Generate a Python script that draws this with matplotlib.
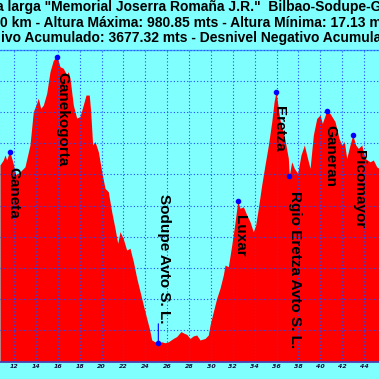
import matplotlib
matplotlib.use('Agg')
import matplotlib.pyplot as plt

# perfil (km, metros)
km = [10.72, 11.02, 11.18, 11.33, 11.48, 11.63, 11.88, 12.18, 12.55, 13.00,
      13.46, 13.76, 14.07, 14.22, 14.44, 14.68, 14.99, 15.29, 15.59, 15.75,
      15.96, 16.20, 16.50, 16.82, 16.96, 17.12, 17.42, 17.73, 18.03, 18.33,
      18.58, 18.88, 19.01, 19.19, 19.40, 19.71, 20.02, 20.32, 20.62, 20.93,
      21.23, 21.48, 21.69, 21.99, 22.30, 22.60, 22.91, 23.22, 23.52, 23.82,
      24.13, 24.37, 24.59, 24.89, 25.19, 25.50, 25.80, 26.10, 26.56, 26.87,
      27.26, 27.57, 27.79, 28.09, 28.39, 28.70, 29.00, 29.46, 29.76, 29.92,
      30.22, 30.53, 30.83, 31.13, 31.29, 31.59, 31.90, 32.21, 32.45, 32.66,
      32.96, 33.27, 33.57, 33.87, 34.09, 34.33, 34.64, 34.94, 35.25, 35.56,
      35.77, 35.95, 36.16, 36.31, 36.77, 37.07, 37.16, 37.38, 37.62, 37.93,
      38.23, 38.54, 38.75, 39.06, 39.36, 39.67, 39.97, 40.18, 40.58, 40.88,
      41.34, 41.71, 41.95, 42.19, 42.41, 42.71, 42.96, 43.23, 43.47, 43.78,
      44.08, 44.54, 44.84, 45.15, 45.36]
alt = [630, 646, 662, 646, 662, 672, 640, 598, 608, 624,
       694, 800, 828, 844, 811, 822, 860, 929, 965, 972,
       975, 945, 940, 918, 929, 908, 822, 780, 785, 822,
       854, 854, 800, 694, 705, 672, 608, 555, 544, 480,
       427, 379, 416, 393, 357, 363, 320, 267, 224, 181,
       138, 106, 69, 63, 60, 63, 60, 63, 74, 80,
       96, 90, 87, 74, 82, 85, 69, 74, 85, 117,
       160, 203, 235, 277, 309, 304, 373, 448, 515, 491,
       496, 470, 448, 416, 437, 491, 566, 630, 694, 769,
       833, 865, 811, 774, 710, 652, 596, 640, 619, 603,
       662, 694, 662, 619, 726, 779, 790, 763, 804, 795,
       769, 715, 694, 705, 651, 694, 726, 694, 683, 694,
       651, 640, 646, 624, 619]

peak_names = ['Ganeta', 'Ganekogorta', 'Sodupe Avto S. L.', 'Luxar', 'Eretza',
              'Rgio Eretza Avto S. L.', 'Ganeran', 'Picomayor']
peak_km = [11.63, 15.96, 25.19, 32.45, 35.95, 37.16, 40.58, 42.96]
peak_alt = [672, 975, 60, 515, 865, 596, 804, 726]

km_ticks = list(range(12, 46, 2))

title_lines = ['a larga "Memorial Joserra Romaña J.R."  Bilbao-Sodupe-Galdakao',
               '0 km - Altura Máxima: 980.85 mts - Altura Mínima: 17.13 mts',
               'ivo Acumulado: 3677.32 mts - Desnivel Negativo Acumulado: 3677.32 mts']

bg = '#80ffff'
W = 379.0

fig = plt.figure(figsize=(3.79, 3.79), dpi=100, facecolor=bg)
ax = fig.add_axes([0, 17.5 / W, 1, 312 / W])
ax.set_facecolor(bg)

ax.fill_between(km, 0, alt, color='#ff0000', lw=0, zorder=1)
ax.set_xticks(km_ticks)
ax.set_yticks(range(0, 1001, 100))
ax.set_xlim(10.72, 45.36)
ax.set_ylim(0, 1000)
ax.grid(True, color='#1a4dff', ls=(0, (1, 2)), lw=0.8, zorder=2)
ax.set_axisbelow(False)
ax.tick_params(axis='y', left=False, labelleft=False)
ax.tick_params(axis='x', length=0, pad=1.5, labelsize=4.5, labelcolor='#101040')
for lab in ax.get_xticklabels():
    lab.set_fontweight('bold')
    lab.set_fontstyle('italic')
for s in ['left', 'right']:
    ax.spines[s].set_visible(False)
ax.spines['bottom'].set_color('#4a40b0')
ax.spines['bottom'].set_linewidth(1.3)
ax.spines['top'].set_color('#40a0ff')
ax.spines['top'].set_linewidth(1.0)

# etiquetas de puntos (desplazamiento en pixeles)
offsets = [(-1, -15), (1, -14.5), (1.5, 19), (-1.5, -14.5), (-1, -14),
           (2, -15.5), (0, -14.5), (2, -15)]
for name, x, y, (dx, dy) in zip(peak_names, peak_km, peak_alt, offsets):
    ax.plot(x, y, 'o', color='#0000ff', ms=3, zorder=4)
    ha = 'right' if dy > 0 else 'left'
    ax.annotate(name, (x, y), xytext=(dx, dy), textcoords='offset pixels',
                rotation=-90, rotation_mode='anchor', ha=ha, va='baseline',
                fontsize=11, fontweight='bold', family='Liberation Sans',
                color='black', zorder=5)
    if dy > 0:
        ax.annotate('', (x, y), xytext=(0, dy), textcoords='offset pixels',
                    arrowprops=dict(arrowstyle='-', color='#0000ff', lw=0.8,
                                    shrinkA=0, shrinkB=0), zorder=3)

# titulo (recortado)
title_x = [-3.8, 0.0, 0.8]
title_base = [11.3, 26.6, 42.0]
for t, x, y in zip(title_lines, title_x, title_base):
    fig.text(x / W, 1 - y / W, t, ha='left', va='baseline', fontsize=10,
             fontweight='bold', family='Liberation Sans', color='black')

fig.savefig('out.png', dpi=100, facecolor=bg)
